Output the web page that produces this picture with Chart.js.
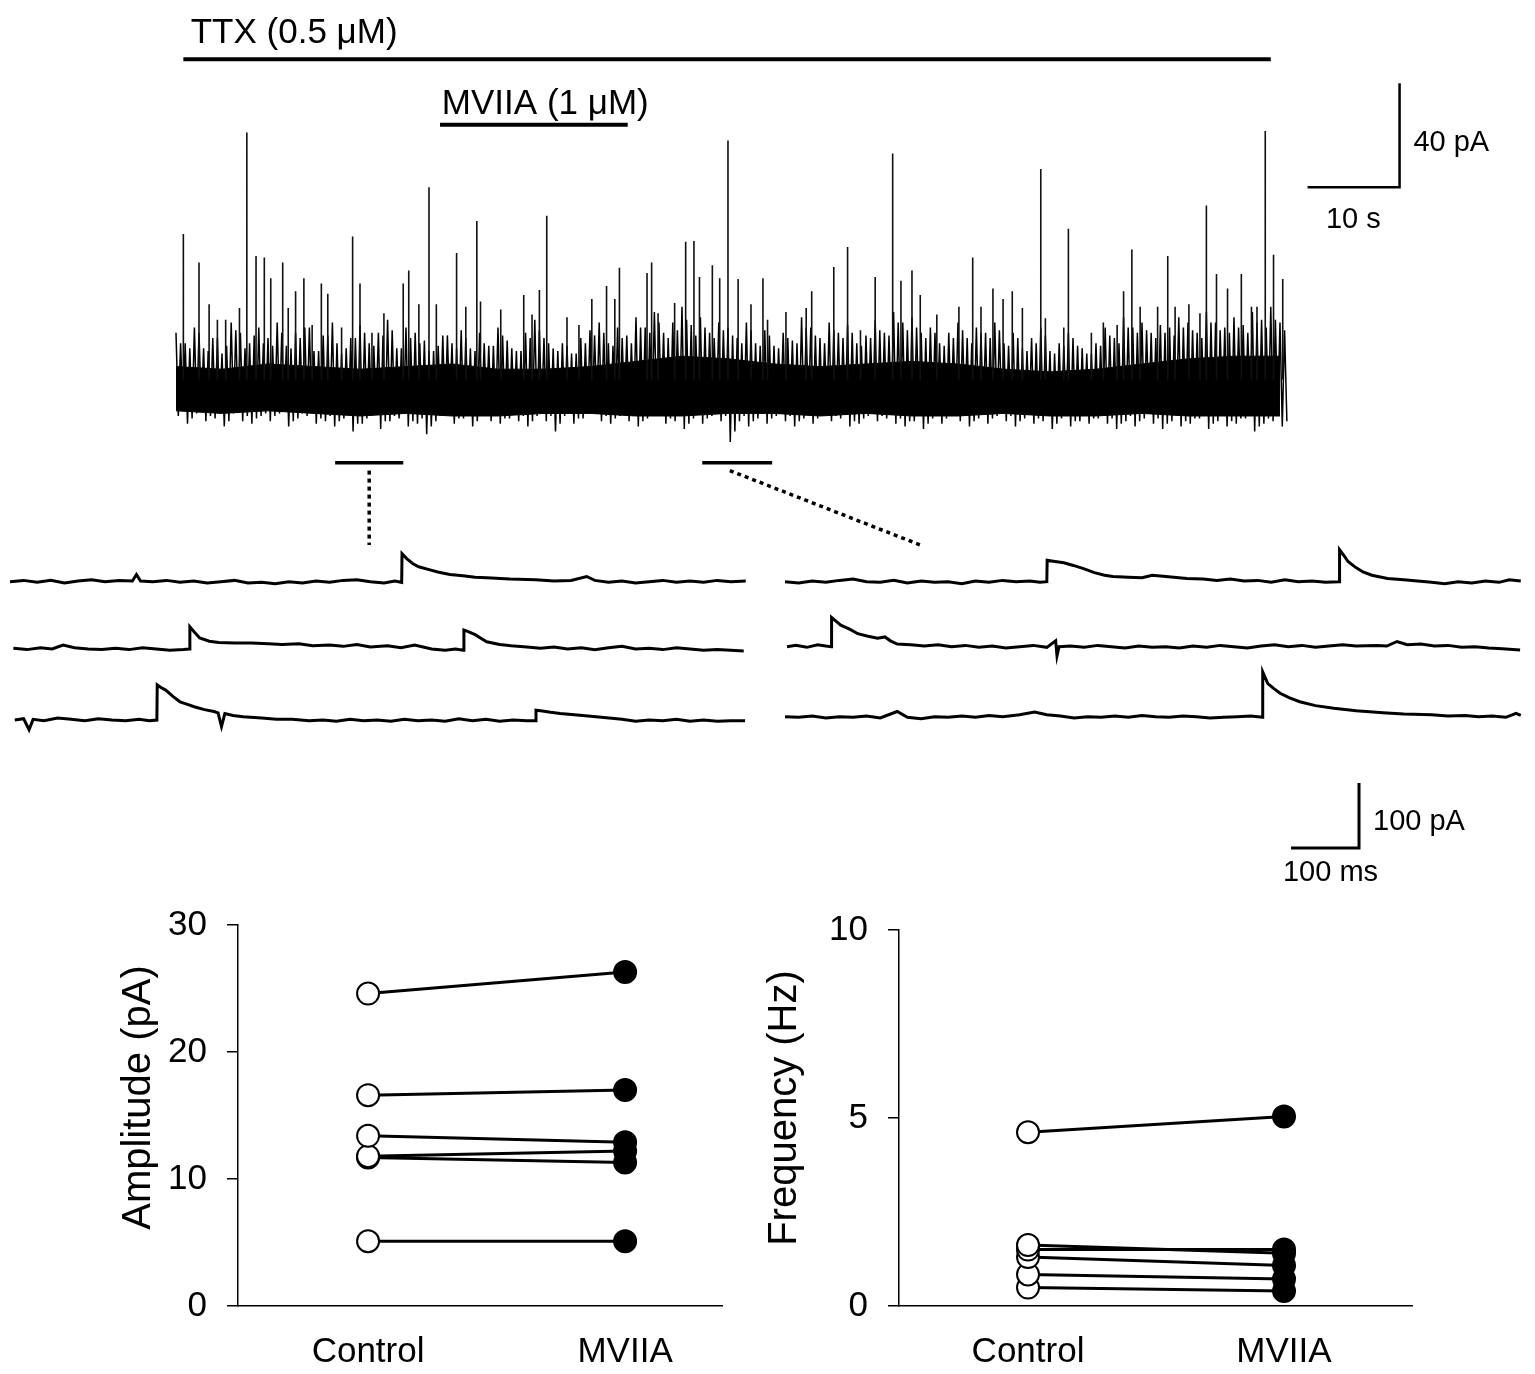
<!DOCTYPE html>
<html lang="en">
<head>
<meta charset="UTF-8">
<title>MVIIA - mEPSC</title>
<script src="https://cdn.jsdelivr.net/npm/chart.js"></script>
<style>
	body { margin: 0; background: #fff; width: 1535px; height: 1374px; position: relative; overflow: hidden; }
	canvas { position: absolute; }
	#trace { left: 0; top: 0; }
	#sweeps { left: 0; top: 520px; }
	#amp { left: 112px; top: 884px; }
	#freq { left: 758px; top: 889px; }
</style>
</head>
<body>
<canvas id="trace" width="1535" height="550"></canvas>
<canvas id="sweeps" width="1535" height="380"></canvas>
<canvas id="amp" width="628" height="490"></canvas>
<canvas id="freq" width="672" height="485"></canvas>

<script>
// ---- long recording (time in s, current in pA) ----
// noise tips, four per second: hi at t, lo at t+.25, hi2 at t+.5, lo2 at t+.75
const traceHi = [22, 18, 24, 16, 20, 14, 26, 22, 18, 24,
	20, 26, 17, 22, 24, 15, 21, 26, 14, 20,
	25, 18, 22, 27, 16, 24, 22, 19, 15, 21,
	18, 23, 16, 22, 17, 24, 19, 15, 22, 27,
	20, 16, 18, 14, 20, 23, 26, 18, 24, 21,
	28, 24, 30, 22, 26, 32, 25, 28, 22, 26,
	24, 20, 26, 18, 23, 17, 22, 19, 28, 24,
	20, 26, 22, 25, 18, 21, 27, 22, 30, 26,
	28, 22, 24, 18, 22, 26, 20, 24, 22, 26,
	18, 22, 16, 20, 24, 15, 18, 22, 17, 14,
	18, 24, 20, 28, 24, 26, 22, 25, 24, 28,
	26, 22, 30, 26, 24, 28, 25, 30, 27, 32, 26];
const traceLo = [-10, -13, -9, -12, -11, -14, -9, -12, -13, -10,
	-12, -9, -14, -11, -10, -13, -12, -14, -11, -16,
	-13, -10, -15, -12, -11, -14, -13, -17, -12, -10,
	-13, -11, -14, -9, -12, -13, -11, -12, -14, -10,
	-12, -16, -10, -13, -11, -9, -12, -13, -10, -12,
	-14, -11, -10, -13, -12, -15, -11, -13, -10, -12,
	-20, -12, -14, -11, -13, -10, -12, -14, -11, -13,
	-10, -12, -11, -14, -13, -10, -12, -11, -13, -14,
	-12, -15, -11, -13, -10, -12, -14, -11, -13, -10,
	-12, -14, -11, -13, -12, -15, -11, -14, -12, -13,
	-11, -13, -15, -12, -14, -11, -13, -15, -12, -14,
	-13, -11, -15, -12, -14, -13, -11, -16, -13, -12, -14];
const traceHi2 = [18, 16, 22, 15, 20, 17, 23, 16, 21, 18,
	17, 22, 16, 20, 24, 15, 21, 18, 16, 20,
	22, 17, 21, 23, 16, 20, 18, 15, 17, 21,
	16, 20, 15, 18, 17, 21, 16, 15, 20, 23,
	18, 15, 17, 14, 18, 21, 22, 17, 20, 18,
	24, 22, 26, 20, 23, 27, 21, 24, 20, 23,
	21, 18, 23, 17, 21, 16, 20, 18, 24, 21,
	18, 23, 20, 22, 17, 20, 23, 21, 26, 23,
	24, 20, 22, 17, 20, 23, 18, 22, 20, 23,
	17, 20, 15, 18, 21, 14, 17, 20, 16, 14,
	17, 21, 18, 24, 22, 23, 20, 22, 21, 24,
	23, 20, 26, 23, 22, 24, 22, 26, 24, 27, 23];
const traceLo2 = [-8, -11, -7, -10, -9, -12, -8, -10, -11, -9,
	-10, -8, -12, -9, -8, -11, -10, -12, -9, -13,
	-11, -8, -12, -10, -9, -12, -11, -14, -10, -8,
	-11, -9, -12, -8, -10, -11, -9, -10, -12, -8,
	-10, -13, -9, -11, -9, -8, -10, -11, -9, -10,
	-12, -9, -8, -11, -10, -13, -9, -11, -8, -10,
	-16, -10, -12, -9, -11, -8, -10, -12, -9, -11,
	-8, -10, -9, -12, -11, -8, -10, -9, -11, -12,
	-10, -13, -9, -11, -8, -10, -12, -9, -11, -8,
	-10, -12, -9, -11, -10, -13, -9, -12, -10, -11,
	-9, -11, -13, -10, -12, -9, -11, -13, -10, -12,
	-11, -9, -13, -10, -12, -11, -9, -14, -11, -10, -12];
// dense core of the noise band, every 5 s
const coreTop = [9, 8, 10, 9, 8, 9, 10, 8, 8, 9, 11, 13, 12, 10, 9, 10, 11, 10, 8, 7, 8, 10, 12, 13, 13];
const coreBot = [-8, -9, -8, -9, -10, -9, -10, -10, -9, -9, -10, -10, -9, -9, -10, -9, -10, -10, -9, -10, -10, -9, -10, -10, -10];
// events: [time s, peak pA]
const events = [[0.8, 60], [2.5, 49], [3.6, 33], [4.5, 27], [5.4, 27], [6.9, 31.5], [7.7, 99], [8.7, 51.5], [9.6, 51],
	[10.3, 43], [11.6, 49], [12.2, 31.5], [13.0, 38], [13.9, 43], [14.8, 25], [15.8, 41], [16.5, 37], [18.0, 24],
	[19.2, 59], [20.0, 41], [21.3, 22], [22.6, 29.5], [24.7, 41], [25.3, 46], [26.4, 33], [27.5, 78], [28.3, 33],
	[30.5, 52.7], [31.5, 32], [32.7, 65], [33.1, 34], [35.3, 31], [37.8, 36.5], [38.7, 29], [39.5, 38.5], [40.3, 67],
	[42.5, 28], [43.8, 25], [45.2, 35], [46.8, 40], [47.7, 35], [48.2, 47], [51.2, 45], [51.7, 49], [52.4, 29.5],
	[54.2, 33.5], [55.4, 57], [56.3, 57.3], [56.9, 43.5], [58.3, 48], [59.1, 43], [60.0, 96], [61.1, 42.7], [62.5, 33],
	[63.8, 43], [64.3, 27], [66.3, 30], [68.5, 31.5], [69.1, 38], [71.5, 47.3], [73.0, 55], [74.4, 23], [76.0, 43.5],
	[77.9, 91], [78.8, 42], [80.0, 46], [80.9, 36.5], [82.7, 29], [85.1, 32], [86.6, 51], [87.5, 32], [88.8, 39],
	[89.9, 35], [90.9, 38], [92.0, 31.5], [94.0, 85], [94.5, 27.6], [96.5, 24], [97.0, 62], [99.5, 22], [100.8, 26],
	[102.3, 25], [103.0, 38], [103.9, 54], [104.8, 32], [106.7, 32], [107.8, 51.5], [108.6, 32], [110.1, 33],
	[111.3, 29.5], [112.0, 71], [113.1, 44.6], [114.3, 39], [115.8, 44.6], [116.9, 32], [117.5, 32], [118.4, 99.6],
	[119.3, 52], [120.3, 42.7]];
const ttxPeriod = [0.8, 119.0];
const mviiaPeriod = [28.7, 49.1];
const zoomWindows = [[17.3, 24.7], [57.2, 64.8]];

// ---- expanded sweeps: [time ms, current pA] ----
const sweepCtrl1 = [[0,0],[20,2],[40,-1],[60,2],[80,-2],[100,1],[120,3],[140,0],[160,2],[180,1],[186,11],[192,1],[210,0],[230,2],[250,-1],[270,1],[290,-2],[310,0],[330,2],[350,-2],[370,-1],[390,-3],[410,0],[430,-2],[450,1],[470,-1],[490,2],[510,3],[530,0],[550,-2],[566,1],[576,-1],[576.5,43],[583,36],[592,28],[601,23],[615,19],[629,15],[647,11],[666,9],[684,7],[701,6],[735,4],[773,3],[800,1],[825,2],[848,8],[860,2],[880,-1],[900,1],[920,-2],[940,0],[960,2],[980,-1],[1000,1],[1020,-1],[1040,2],[1060,0],[1082,1]];
const sweepCtrl2 = [[5,0],[25,-2],[45,1],[62,-1],[78,5],[95,1],[115,-1],[135,-2],[155,0],[175,-2],[195,1],[215,-1],[235,-3],[255,-2],[264,-1],[264.5,33],[271,25],[279,16],[293,11],[307,9],[330,8],[355,8],[380,7],[400,6],[425,7],[445,4],[470,5],[490,3],[510,6],[530,2],[555,4],[575,1],[595,5],[620,-1],[640,-3],[655,-1],[667,-3],[667.5,28],[673,26],[684,21],[693,15],[701,10],[720,6],[737,4],[760,2],[780,0],[800,2],[820,-1],[840,1],[860,-2],[880,1],[900,3],[920,-1],[940,0],[960,-2],[980,1],[1000,-1],[1020,-3],[1040,-2],[1060,-3],[1079,-4]];
const sweepCtrl3 = [[7,0],[20,2],[28,-15],[34,1],[50,-1],[70,3],[90,1],[110,-1],[130,2],[150,0],[170,-1],[190,1],[205,-1],[216,0],[216.5,54],[222,50],[229,46],[240,36],[250,28],[261,24],[272,20],[286,16],[300,13],[306,11],[311,-10],[316,10],[328,7],[343,5],[370,3],[392,1],[415,1],[440,-1],[460,0],[480,-2],[500,1],[520,-1],[540,0],[560,-2],[580,1],[600,-1],[620,0],[640,-2],[660,2],[680,-1],[700,1],[720,-2],[740,0],[760,-1],[773,-1],[773.5,15],[783,14],[795,12],[809,10],[830,8],[850,6],[881,3],[900,1],[920,-2],[940,0],[960,-1],[980,1],[1000,-2],[1020,0],[1040,-2],[1060,-1],[1081,-1]];
const sweepMv1 = [[0,0],[20,-2],[40,1],[60,-1],[80,2],[100,4],[120,0],[140,-1],[160,2],[180,-2],[200,1],[220,-1],[240,0],[260,-3],[280,1],[300,-1],[320,2],[340,0],[360,1],[375,-1],[385,0],[385.5,33],[397,31],[410,29],[424,25],[439,20],[455,14],[470,10],[482,8],[505,7],[525,6],[540,10],[560,8],[591,5],[615,4],[635,2],[655,4],[675,1],[695,2],[715,-1],[735,3],[755,0],[775,1],[795,-1],[815,0],[815.5,49],[822,40],[828,31],[839,22],[850,15],[863,10],[886,5],[910,3],[930,1],[951,-1],[970,-3],[990,0],[1010,-2],[1030,1],[1050,-1],[1065,3],[1082,1]];
const sweepMv2 = [[3,0],[16,2],[32,-1],[48,3],[60,1],[68,0],[68.5,45],[74,40],[82,33],[95,27],[107,20],[122,16],[136,13],[147,15],[155,9],[165,4],[185,3],[205,1],[225,3],[245,0],[265,2],[285,-1],[305,1],[325,-2],[345,0],[365,2],[385,-1],[398,9],[400,-14],[403,0],[420,1],[440,-1],[460,2],[480,0],[500,-2],[520,1],[540,-1],[560,0],[580,-2],[600,1],[620,-1],[640,2],[660,0],[680,-2],[700,1],[720,3],[740,0],[760,2],[780,-1],[800,1],[820,3],[840,1],[870,2],[885,1],[900,8],[915,3],[935,4],[955,1],[975,2],[995,-1],[1015,0],[1035,-2],[1055,-3],[1081,-5]];
const sweepMv3 = [[0,0],[20,-1],[40,1],[60,-2],[80,0],[100,-1],[120,1],[140,-2],[165,8],[180,-1],[200,-3],[220,0],[240,-1],[260,1],[280,-1],[300,2],[320,0],[345,3],[367,7],[385,3],[405,1],[425,-2],[445,0],[465,-1],[485,1],[505,-1],[525,2],[545,0],[565,-1],[585,1],[605,0],[625,-2],[645,-1],[665,0],[685,1],[702,-1],[702.5,69],[710,51],[718,44],[728,36],[742,29],[757,23],[780,17],[807,13],[840,9],[879,6],[910,4],[951,3],[975,1],[1000,2],[1020,0],[1040,1],[1060,-1],[1075,5],[1082,2]];

// ---- summary (paired cells) ----
const groups = ['Control', 'MVIIA'];
const ampControl = [24.6, 16.6, 13.4, 11.8, 11.7, 5.1];
const ampMviia = [26.3, 17.0, 12.9, 12.2, 11.3, 5.1];
const freqControl = [4.62, 1.62, 1.5, 1.3, 0.84, 0.49];
const freqMviia = [5.04, 1.4, 1.5, 1.08, 0.72, 0.4];

const FONT = '"Liberation Sans", Arial, Helvetica, sans-serif';
Chart.defaults.font.family = FONT;
Chart.defaults.color = '#000';

const baseOpts = (xr, yr) => ({
	responsive: false,
	animation: false,
	events: [],
	layout: { padding: 0 },
	plugins: { legend: { display: false }, tooltip: { enabled: false } },
	elements: { point: { radius: 0 }, line: { tension: 0 } },
	scales: {
		x: { type: 'linear', display: false, min: xr[0], max: xr[1] },
		y: { type: 'linear', display: false, min: yr[0], max: yr[1] }
	}
});

const notes = (items) => ({
	id: 'notes',
	afterDatasetsDraw(chart) {
		const { ctx, scales: { x, y } } = chart;
		ctx.save();
		ctx.fillStyle = '#000';
		ctx.textBaseline = 'alphabetic';
		items.forEach(it => {
			ctx.font = it.size + 'px ' + FONT;
			ctx.fillText(it.text, x.getPixelForValue(it.x), y.getPixelForValue(it.y));
		});
		ctx.restore();
	}
});

const seg = (pts, width, dash) => ({
	data: pts.map(p => ({ x: p[0], y: p[1] })),
	borderColor: '#000', borderWidth: width, borderDash: dash || [], fill: false
});

// ---- top trace ----
const band = [];
traceHi.forEach((h, i) => {
	band.push({ x: i, y: h });
	band.push({ x: i + 0.25, y: traceLo[i] });
	band.push({ x: i + 0.5, y: traceHi2[i] });
	band.push({ x: i + 0.75, y: traceLo2[i] });
});
const spikePts = [];
events.forEach(([t, a]) => {
	spikePts.push({ x: t, y: 4 }, { x: t, y: a }, { x: t, y: null });
});

new Chart(document.getElementById('trace'), {
	type: 'line',
	data: {
		datasets: [
			{ data: spikePts, borderColor: '#111', borderWidth: 1.6, spanGaps: false, fill: false },
			{ data: band, borderColor: '#000', borderWidth: 1.5, fill: false },
			{ data: coreTop.map((v, i) => ({ x: i * 5, y: v })), borderColor: '#000', borderWidth: 1, backgroundColor: '#000', fill: '+1' },
			{ data: coreBot.map((v, i) => ({ x: i * 5, y: v })), borderColor: '#000', borderWidth: 1, fill: false },
			seg([[ttxPeriod[0], 127.2], [ttxPeriod[1], 127.2]], 4),
			seg([[mviiaPeriod[0], 102], [mviiaPeriod[1], 102]], 4),
			seg([[123, 78], [133, 78], [133, 118]], 2.5),
			seg([[zoomWindows[0][0], -28], [zoomWindows[0][1], -28]], 3.5),
			seg([[zoomWindows[1][0], -28], [zoomWindows[1][1], -28]], 3.5),
			seg([[21.0, -31], [21.0, -59.6]], 3.5, [4, 4]),
			seg([[60.2, -31], [80.9, -59.6]], 3.5, [4, 4])
		]
	},
	options: baseOpts([-19.13, 147.72], [-61.54, 150]),
	plugins: [notes([
		{ text: 'TTX (0.5 \u03bcM)', x: 1.6, y: 133.3, size: 35 },
		{ text: 'MVIIA (1 \u03bcM)', x: 28.9, y: 106.2, size: 35 },
		{ text: '40 pA', x: 134.5, y: 91.9, size: 29 },
		{ text: '10 s', x: 125, y: 62.3, size: 29 }
	])]
});

// ---- expanded sweeps ----
const rightStart = 1139.7;
const sweepSets = [];
[[sweepCtrl1, 0], [sweepCtrl2, -102.5], [sweepCtrl3, -212.8]].forEach(([s, off]) => {
	sweepSets.push({ data: s.map(p => ({ x: p[0], y: p[1] + off })), borderColor: '#000', borderWidth: 3, fill: false });
});
[[sweepMv1, 0], [sweepMv2, -100], [sweepMv3, -207.7]].forEach(([s, off]) => {
	sweepSets.push({ data: s.map(p => ({ x: p[0] + rightStart, y: p[1] + off })), borderColor: '#000', borderWidth: 3, fill: false });
});
sweepSets.push(seg([[1883.8, -409.7], [1983.8, -409.7], [1983.8, -309.7]], 3));

new Chart(document.getElementById('sweeps'), {
	type: 'line',
	data: { datasets: sweepSets },
	options: baseOpts([-14.7, 2242.6], [-489.7, 94.9]),
	plugins: [notes([
		{ text: '100 pA', x: 2004.4, y: -382, size: 29 },
		{ text: '100 ms', x: 1872, y: -460, size: 29 }
	])]
});

// ---- paired plots ----
const yTitle = (text, cx, dy) => ({
	id: 'ytitle',
	afterDraw(chart) {
		const { ctx, chartArea } = chart;
		ctx.save();
		ctx.translate(cx, (chartArea.top + chartArea.bottom) / 2 + dy);
		ctx.rotate(-Math.PI / 2);
		ctx.font = '40px ' + FONT;
		ctx.textAlign = 'center';
		ctx.textBaseline = 'middle';
		ctx.fillStyle = '#000';
		ctx.fillText(text, 0, 0);
		ctx.restore();
	}
});

function pairedChart(id, ctrl, mv, yMax, yStep, title, xr, axisW, dy) {
	const datasets = ctrl.map((c, i) => ({
		data: [{ x: 1, y: c }, { x: 2, y: mv[i] }],
		borderColor: '#000',
		borderWidth: 3,
		pointRadius: 11,
		pointBorderWidth: 2,
		pointBorderColor: '#000',
		pointBackgroundColor: ['#fff', '#000']
	}));
	return new Chart(document.getElementById(id), {
		type: 'line',
		data: { datasets },
		options: {
			responsive: false,
			animation: false,
			events: [],
			clip: false,
			layout: { padding: { top: 40, right: 18, left: 0, bottom: 0 } },
			plugins: { legend: { display: false }, tooltip: { enabled: false } },
			scales: {
				x: {
					type: 'linear', min: xr[0], max: xr[1],
					afterBuildTicks: s => { s.ticks = [{ value: 1 }, { value: 2 }]; },
					afterFit: s => { s.height = 68; },
					ticks: { callback: v => groups[v - 1], font: { size: 35 }, color: '#000', padding: 25, maxRotation: 0 },
					grid: { display: false, drawTicks: false },
					border: { color: '#000', width: 1.5 }
				},
				y: {
					min: 0, max: yMax,
					afterFit: s => { s.width = axisW; },
					ticks: { stepSize: yStep, font: { size: 35 }, color: '#000', padding: 20 },
					grid: { drawOnChartArea: false, tickLength: 11, color: '#000', lineWidth: 1.5 },
					border: { color: '#000', width: 1.5 },
					title: { display: false }
				}
			}
		},
		plugins: [yTitle(title, 27, dy)]
	});
}

pairedChart('amp', ampControl, ampMviia, 30, 10, 'Amplitude (pA)', [0.494, 2.377], 126, -18);
pairedChart('freq', freqControl, freqMviia, 10, 5, 'Frequency (Hz)', [0.496, 2.5], 141, -10);
</script>
</body>
</html>
